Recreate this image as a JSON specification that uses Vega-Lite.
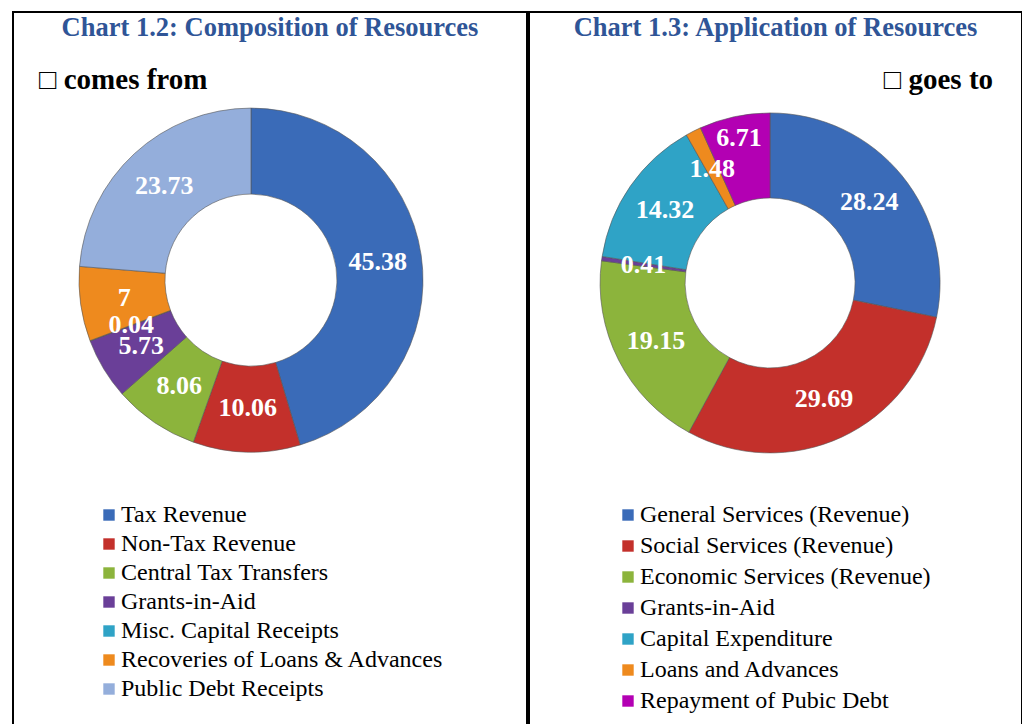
{
  "$schema": "https://vega.github.io/schema/vega-lite/v6.json",
  "background": "white",
  "padding": {"left": 12, "top": 11, "right": 3, "bottom": 0},
  "spacing": 0,
  "config": {
    "view": {"stroke": "black", "strokeWidth": 2},
    "title": {"font": "Liberation Serif", "fontSize": 26.5, "fontWeight": "bold", "color": "#2F5597", "anchor": "middle", "frame": "group", "offset": -29}
  },
  "resolve": {"scale": {"color": "independent", "x": "independent", "y": "independent", "theta": "independent"}, "legend": {"color": "independent"}},
  "hconcat": [
    {
      "width": 514,
      "height": 713,
      "title": {"text": "Chart 1.2: Composition of Resources"},
      "data": {"values": [
        {"panel": "L", "cat": "Tax Revenue", "value": 45.38, "ord": 1},
        {"panel": "L", "cat": "Non-Tax Revenue", "value": 10.06, "ord": 2},
        {"panel": "L", "cat": "Central Tax Transfers", "value": 8.06, "ord": 3},
        {"panel": "L", "cat": "Grants-in-Aid", "value": 5.73, "ord": 4},
        {"panel": "L", "cat": "Misc. Capital Receipts", "value": 0.04, "ord": 5},
        {"panel": "L", "cat": "Recoveries of Loans & Advances", "value": 7, "ord": 6},
        {"panel": "L", "cat": "Public Debt Receipts", "value": 23.73, "ord": 7}
      ]},
      "encoding": {
        "x": {"field": "panel", "type": "nominal", "scale": {"type": "point", "align": 0.463}, "axis": null},
        "y": {"field": "panel", "type": "nominal", "scale": {"type": "point", "align": 0.376}, "axis": null}
      },
      "layer": [
        {
          "mark": {"type": "arc", "radius": 172, "innerRadius": 86, "stroke": "#555555", "strokeWidth": 0.6},
          "encoding": {
            "theta": {"field": "value", "type": "quantitative", "stack": true},
            "order": {"field": "ord", "type": "quantitative"},
            "color": {
              "field": "cat", "type": "nominal",
              "scale": {
                "domain": ["Tax Revenue", "Non-Tax Revenue", "Central Tax Transfers", "Grants-in-Aid", "Misc. Capital Receipts", "Recoveries of Loans & Advances", "Public Debt Receipts"],
                "range": ["#3A6BB8", "#C3302B", "#8CB43C", "#6A3F98", "#2FA3C6", "#EE8A1E", "#94AEDB"]
              },
              "legend": {"orient": "none", "legendX": 84, "legendY": 491, "title": null, "padding": 0, "symbolType": "square", "symbolSize": 130, "symbolStrokeWidth": 0, "labelFont": "Liberation Serif", "labelFontSize": 24, "labelColor": "black", "labelOffset": 0, "rowPadding": 5, "labelLimit": 0}
            }
          }
        },
        {
          "mark": {"type": "text", "radius": 128, "font": "Liberation Serif", "fontSize": 26, "fontWeight": "bold", "color": "white"},
          "encoding": {
            "theta": {"field": "value", "type": "quantitative", "stack": true},
            "order": {"field": "ord", "type": "quantitative"},
            "text": {"field": "value", "type": "quantitative"}
          }
        },
        {
          "data": {"values": [{"panel": "L", "sub": "□ comes from"}]},
          "mark": {"type": "text", "align": "left", "baseline": "alphabetic", "dx": -212, "dy": -191, "font": "Liberation Serif", "fontSize": 29, "fontWeight": "bold", "color": "black"},
          "encoding": {"text": {"field": "sub"}}
        }
      ]
    },
    {
      "width": 493,
      "height": 713,
      "title": {"text": "Chart 1.3: Application of Resources"},
      "data": {"values": [
        {"panel": "R", "cat": "General Services (Revenue)", "value": 28.24, "ord": 1},
        {"panel": "R", "cat": "Social Services (Revenue)", "value": 29.69, "ord": 2},
        {"panel": "R", "cat": "Economic Services (Revenue)", "value": 19.15, "ord": 3},
        {"panel": "R", "cat": "Grants-in-Aid", "value": 0.41, "ord": 4},
        {"panel": "R", "cat": "Capital Expenditure", "value": 14.32, "ord": 5},
        {"panel": "R", "cat": "Loans and Advances", "value": 1.48, "ord": 6},
        {"panel": "R", "cat": "Repayment of Pubic Debt", "value": 6.71, "ord": 7}
      ]},
      "encoding": {
        "x": {"field": "panel", "type": "nominal", "scale": {"type": "point", "align": 0.489}, "axis": null},
        "y": {"field": "panel", "type": "nominal", "scale": {"type": "point", "align": 0.38}, "axis": null}
      },
      "layer": [
        {
          "mark": {"type": "arc", "radius": 170, "innerRadius": 85, "stroke": "#555555", "strokeWidth": 0.6},
          "encoding": {
            "theta": {"field": "value", "type": "quantitative", "stack": true},
            "order": {"field": "ord", "type": "quantitative"},
            "color": {
              "field": "cat", "type": "nominal",
              "scale": {
                "domain": ["General Services (Revenue)", "Social Services (Revenue)", "Economic Services (Revenue)", "Grants-in-Aid", "Capital Expenditure", "Loans and Advances", "Repayment of Pubic Debt"],
                "range": ["#3A6BB8", "#C3302B", "#8CB43C", "#6A3F98", "#2FA3C6", "#EE8A1E", "#B300B3"]
              },
              "legend": {"orient": "none", "legendX": 87, "legendY": 491, "title": null, "padding": 0, "symbolType": "square", "symbolSize": 130, "symbolStrokeWidth": 0, "labelFont": "Liberation Serif", "labelFontSize": 24, "labelColor": "black", "labelOffset": 0, "rowPadding": 7, "labelLimit": 0}
            }
          }
        },
        {
          "mark": {"type": "text", "radius": 128, "font": "Liberation Serif", "fontSize": 26, "fontWeight": "bold", "color": "white"},
          "encoding": {
            "theta": {"field": "value", "type": "quantitative", "stack": true},
            "order": {"field": "ord", "type": "quantitative"},
            "text": {"field": "value", "type": "quantitative"},
            "opacity": {"condition": {"test": "datum.ord == 7", "value": 0}, "value": 1}
          }
        },
        {
          "mark": {"type": "text", "radius": 148, "font": "Liberation Serif", "fontSize": 26, "fontWeight": "bold", "color": "white"},
          "encoding": {
            "theta": {"field": "value", "type": "quantitative", "stack": true},
            "order": {"field": "ord", "type": "quantitative"},
            "text": {"field": "value", "type": "quantitative"},
            "opacity": {"condition": {"test": "datum.ord == 7", "value": 1}, "value": 0}
          }
        },
        {
          "data": {"values": [{"panel": "R", "sub": "□ goes to"}]},
          "mark": {"type": "text", "align": "right", "baseline": "alphabetic", "dx": 223, "dy": -194, "font": "Liberation Serif", "fontSize": 29, "fontWeight": "bold", "color": "black"},
          "encoding": {"text": {"field": "sub"}}
        }
      ]
    }
  ]
}
